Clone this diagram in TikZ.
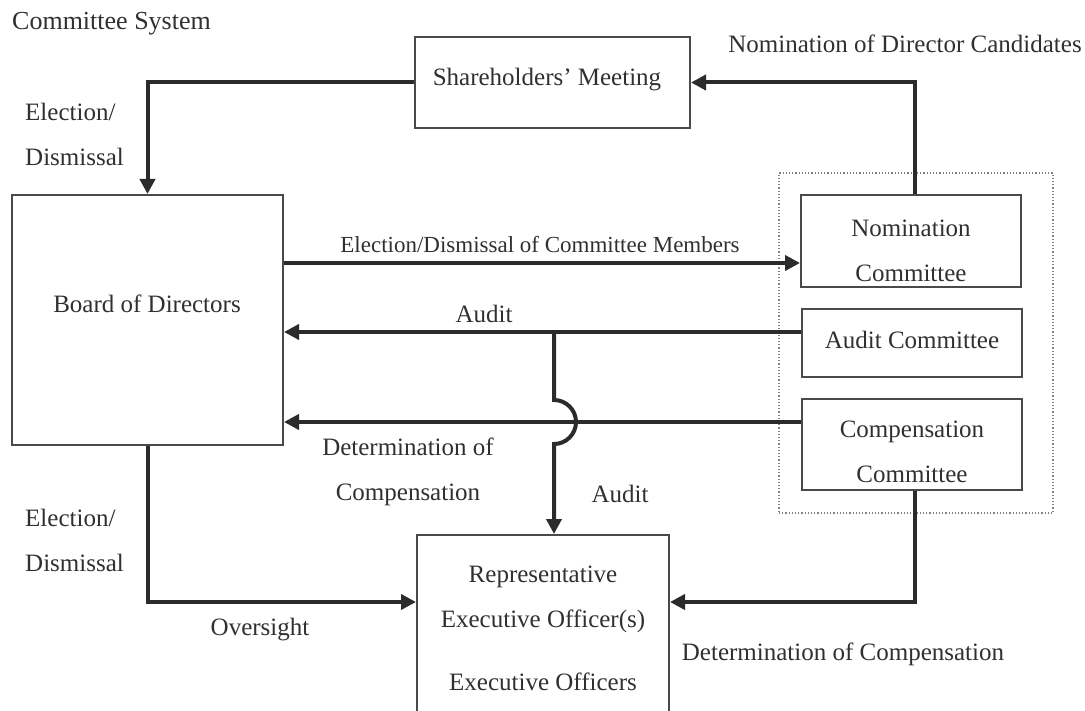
\documentclass[tikz,border=0pt]{standalone}
\usepackage{fontspec}
\setmainfont{Liberation Serif}
\usetikzlibrary{arrows.meta}
\definecolor{ink}{HTML}{2B2B2B}
\definecolor{boxc}{HTML}{4A4A4A}
\definecolor{txt}{HTML}{303030}
\begin{document}
\begin{tikzpicture}[x=1pt,y=-1pt,
  box/.style={draw=boxc,line width=2pt,inner sep=0pt},
  lbl/.style={text=txt,font=\fontsize{25}{45}\selectfont,inner sep=0pt,align=center},
  arr/.style={draw=ink,line width=4pt,-{Triangle[length=15pt,width=15pt]}}]
\useasboundingbox (0,0) rectangle (1085,711);
\clip (0,0) rectangle (1085,711);
% boxes
\node[box,minimum width=275pt,minimum height=91pt] (share) at (552.5,82.5) {};
\node[lbl] (shareT) at (547,80) {Shareholders' Meeting};
\node[box,minimum width=271pt,minimum height=250pt] (board) at (147.5,320) {};
\node[lbl] (boardT) at (147,304) {Board of Directors};
\node[box,minimum width=220pt,minimum height=92pt] (nom) at (911,241) {};
\node[lbl] (nomT) at (911,251) {Nomination\\Committee};
\node[box,minimum width=220pt,minimum height=68pt] (aud) at (912,343) {};
\node[lbl] (audT) at (912,340) {Audit Committee};
\node[box,minimum width=220pt,minimum height=91pt] (comp) at (912,444.5) {};
\node[lbl] (compT) at (912,452) {Compensation\\Committee};
\node[draw=gray,dotted,line width=1.2pt,minimum width=274pt,minimum height=340pt] (grp) at (916,343) {};
\node[box,minimum width=252pt,minimum height=200pt] (rep) at (543,635) {};
\node[lbl] (repT) at (543,599.5) {Representative\\Executive Officer(s)};
\node[lbl] (repT2) at (543,682) {Executive Officers};
% labels
\node[lbl,anchor=west,font=\fontsize{26}{30}\selectfont] (title) at (12,24) {Committee System};
\node[lbl] (l1) at (905,44) {Nomination of Director Candidates};
\node[lbl,align=left,anchor=west] (l2) at (25,134) {Election/\\Dismissal};
\node[lbl,font=\fontsize{23}{30}\selectfont] (l3) at (540,245) {Election/Dismissal of Committee Members};
\node[lbl] (l4) at (484,314) {Audit};
\node[lbl] (l5) at (408,472) {Determination of\\Compensation};
\node[lbl] (l6) at (620,494) {Audit};
\node[lbl,align=left,anchor=west] (l7) at (25,540) {Election/\\Dismissal};
\node[lbl] (l8) at (260,630) {Oversight};
\node[lbl] (l9) at (843,654) {Determination of Compensation};
% connectors
\coordinate (vR) at (915,0);
\coordinate (lA) at (0,263);
\coordinate (lB) at (0,332);
\coordinate (lC) at (0,422);
\coordinate (lD) at (0,602);
\coordinate (jx) at (554,332);
\draw[arr] (nom.north -| vR) |- (share.east);
\draw[arr] (share.west) -| (board.north);
\draw[arr] (board.east |- lA) -- (nom.west |- lA);
\draw[arr] (aud.west |- lB) -- (board.east |- lB);
\draw[arr] (comp.west |- lC) -- (board.east |- lC);
\draw[arr] (jx) -- ++(0,68) arc[start angle=-90,end angle=90,radius=22] -- (jx |- rep.north);
\draw[arr] (board.south) |- (rep.west |- lD);
\draw[arr] (comp.south -| vR) |- (rep.east |- lD);
\end{tikzpicture}
\end{document}
